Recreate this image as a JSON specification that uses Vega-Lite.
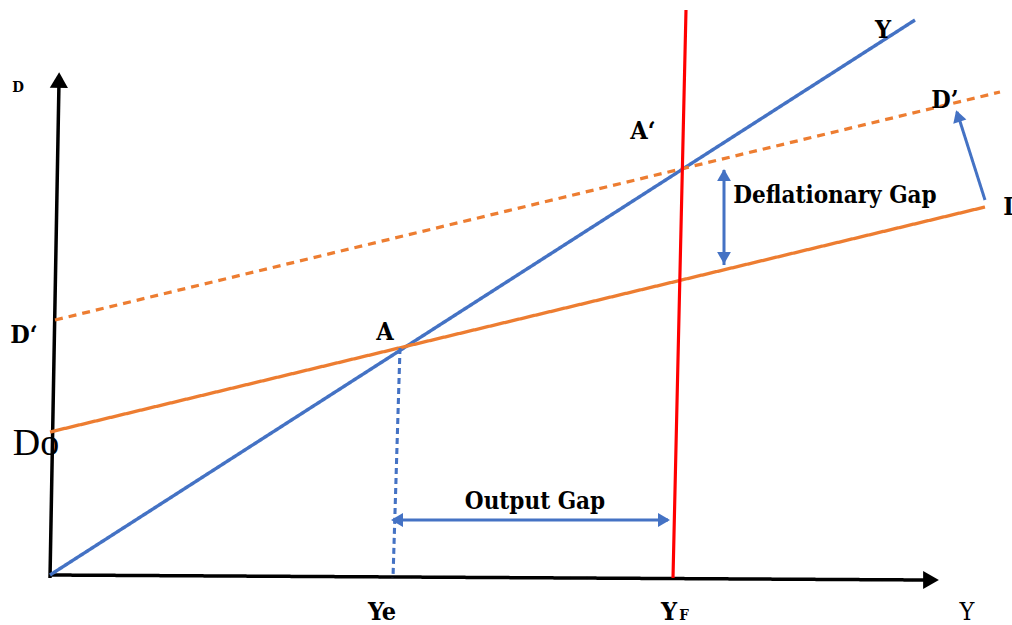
{
  "$schema": "https://vega.github.io/schema/vega-lite/v6.json",
  "width": 1012,
  "height": 625,
  "autosize": {"type": "none"},
  "padding": 0,
  "background": "white",
  "config": {"view": {"stroke": null}},
  "datasets": {
    "segments": [
      {"kind": "axis", "x": 50, "y": 47, "x2": 59, "y2": 543},
      {"kind": "axis", "x": 50, "y": 50, "x2": 925, "y2": 45},
      {"kind": "Y", "x": 50, "y": 50, "x2": 915, "y2": 605},
      {"kind": "D", "x": 50, "y": 193, "x2": 985, "y2": 418},
      {"kind": "D1", "x": 55, "y": 305, "x2": 1000, "y2": 533},
      {"kind": "YF", "x": 673, "y": 47, "x2": 686, "y2": 615},
      {"kind": "Ye", "x": 400, "y": 277, "x2": 393, "y2": 47},
      {"kind": "gap", "x": 395, "y": 105, "x2": 668, "y2": 105},
      {"kind": "gap", "x": 724, "y": 455, "x2": 724, "y2": 360},
      {"kind": "gap", "x": 985, "y": 425, "x2": 957, "y2": 513}
    ],
    "heads": [
      {"kind": "axis", "x": 59, "y": 545, "angle": 1},
      {"kind": "axis", "x": 931, "y": 45, "angle": 90},
      {"kind": "gap", "x": 397, "y": 105, "angle": 270},
      {"kind": "gap", "x": 664, "y": 105, "angle": 90},
      {"kind": "gap", "x": 724, "y": 450, "angle": 0},
      {"kind": "gap", "x": 724, "y": 367, "angle": 180},
      {"kind": "gap", "x": 958, "y": 509, "angle": 342}
    ]
  },
  "encoding": {
    "x": {"field": "x", "type": "quantitative", "scale": {"domain": [0, 1012], "nice": false, "zero": false}, "axis": null},
    "y": {"field": "y", "type": "quantitative", "scale": {"domain": [0, 625], "nice": false, "zero": false}, "axis": null}
  },
  "layer": [
    {
      "data": {"name": "segments"},
      "mark": {"type": "rule", "strokeCap": "butt"},
      "encoding": {
        "x2": {"field": "x2"},
        "y2": {"field": "y2"},
        "color": {"field": "kind", "type": "nominal", "legend": null,
          "scale": {"domain": ["axis", "Y", "D", "D1", "YF", "Ye", "gap"], "range": ["#000000", "#4472C4", "#ED7D31", "#ED7D31", "#FF0000", "#4472C4", "#4472C4"]}},
        "strokeWidth": {"field": "kind", "type": "nominal", "legend": null,
          "scale": {"domain": ["axis", "Y", "D", "D1", "YF", "Ye", "gap"], "range": [3.5, 3, 3.5, 1.8, 3.5, 1.5, 1.5]}},
        "strokeDash": {"field": "kind", "type": "nominal", "legend": null,
          "scale": {"domain": ["axis", "Y", "D", "D1", "YF", "Ye", "gap"], "range": [[1, 0], [1, 0], [1, 0], [8, 6], [1, 0], [6, 4], [1, 0]]}}
      }
    },
    {
      "data": {"name": "heads"},
      "mark": {"type": "point", "shape": "triangle-up", "filled": true, "opacity": 1, "strokeWidth": 0},
      "encoding": {
        "angle": {"field": "angle", "type": "quantitative", "scale": null},
        "color": {"field": "kind", "type": "nominal", "legend": null,
          "scale": {"domain": ["axis", "Y", "D", "D1", "YF", "Ye", "gap"], "range": ["#000000", "#4472C4", "#ED7D31", "#ED7D31", "#FF0000", "#4472C4", "#4472C4"]}},
        "size": {"field": "kind", "type": "nominal", "legend": null,
          "scale": {"domain": ["axis", "gap"], "range": [330, 190]}}
      }
    },
    {
      "data": {"values": [
        {"x": 835, "y": 422, "text": "Deflationary Gap"},
        {"x": 535, "y": 116, "text": "Output Gap"}
      ]},
      "mark": {"type": "text", "font": "DejaVu Serif Condensed", "fontWeight": "bold", "fontSize": 24, "baseline": "alphabetic", "align": "center", "color": "black"},
      "encoding": {"text": {"field": "text"}}
    },
    {
      "data": {"values": [
        {"x": 382, "y": 5, "text": "Ye"},
        {"x": 385, "y": 285, "text": "A"},
        {"x": 643, "y": 486, "text": "A‘"},
        {"x": 945, "y": 517, "text": "D’"},
        {"x": 24, "y": 282, "text": "D‘"},
        {"x": 669, "y": 5, "text": "Y"},
        {"x": 883, "y": 587, "text": "Y"},
        {"x": 1013, "y": 410, "text": "D"}
      ]},
      "mark": {"type": "text", "font": "DejaVu Serif Condensed", "fontWeight": "bold", "fontSize": 25, "baseline": "alphabetic", "align": "center", "color": "black"},
      "encoding": {"text": {"field": "text"}}
    },
    {
      "data": {"values": [
        {"x": 684, "y": 5, "text": "F"},
        {"x": 18, "y": 533, "text": "D"}
      ]},
      "mark": {"type": "text", "font": "DejaVu Serif Condensed", "fontWeight": "bold", "fontSize": 15, "baseline": "alphabetic", "align": "center", "color": "black"},
      "encoding": {"text": {"field": "text"}}
    },
    {
      "data": {"values": [
        {"x": 967, "y": 5, "text": "Y"}
      ]},
      "mark": {"type": "text", "font": "DejaVu Serif Condensed", "fontSize": 25, "baseline": "alphabetic", "align": "center", "color": "black"},
      "encoding": {"text": {"field": "text"}}
    },
    {
      "data": {"values": [
        {"x": 36, "y": 170, "text": "Do"}
      ]},
      "mark": {"type": "text", "font": "Liberation Serif", "fontSize": 38, "baseline": "alphabetic", "align": "center", "color": "black"},
      "encoding": {"text": {"field": "text"}}
    }
  ]
}
